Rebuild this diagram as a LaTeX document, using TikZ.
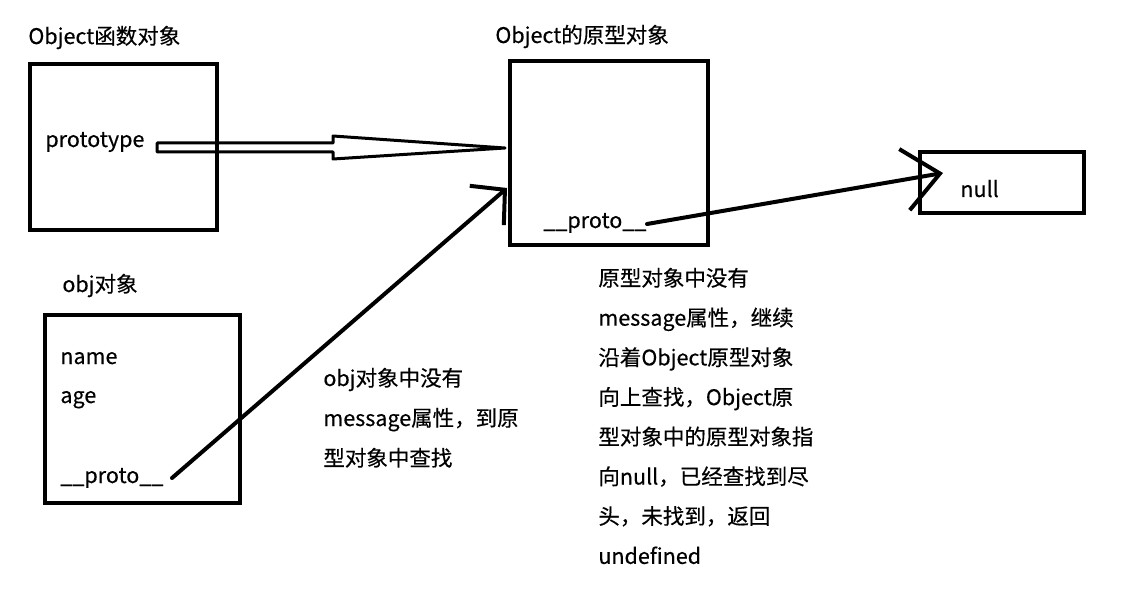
\documentclass[tikz,border=0pt]{standalone}
\usepackage{fontspec}
\setmainfont{Noto Sans CJK SC}[FakeBold=0.4]
\usetikzlibrary{arrows.meta,calc}

\begin{document}
\begin{tikzpicture}
  [x=0.5pt,y=-0.5pt,
   every node/.style={font=\fontsize{10.75}{12}\selectfont},
   box/.style={draw,line width=2pt,outer sep=0pt,inner sep=0pt},
   lbl/.style={anchor=base west,inner sep=0pt},
   barb/.style={line width=2pt,line cap=round,-{Straight Barb[length=12pt,width=26pt]}}]
  \useasboundingbox (0,0) rectangle (1139,593);

  % boxes
  \node[box,minimum width=93.25pt,minimum height=83pt] (fn) at (123.25,147) {};
  \node[box,minimum width=99pt,minimum height=92pt] (op) at (609,153) {};
  \node[box,minimum width=82pt,minimum height=30.5pt] (nb) at (1002,182.5) {};
  \node[box,minimum width=97.5pt,minimum height=94pt] (ob) at (142.5,409) {};

  % titles and fields
  \node[lbl] (fnt) at (28,44) {Object函数对象};
  \node[lbl] (ptype) at (45,147) {prototype};
  \node[lbl] (opt) at (495,43) {Object的原型对象};
  \node[lbl] (opp) at (543,228) {\_\_proto\_\_};
  \node[lbl] (nul) at (960,197) {null};
  \node[lbl] (obt) at (62,292) {obj对象};
  \node[lbl] (nm) at (60,364) {name};
  \node[lbl] (ag) at (60,403) {age};
  \node[lbl] (obp) at (60,483) {\_\_proto\_\_};

  % notes
  \foreach \t [count=\i from 0] in {obj对象中没有,message属性，到原,型对象中查找}
    \node[lbl] (mid\i) at (323,386+40*\i) {\t};
  \foreach \t [count=\i from 0] in {原型对象中没有,message属性，继续,沿着Object原型对象,
      向上查找，Object原,型对象中的原型对象指,向null，已经查找到尽,头，未找到，返回,undefined}
    \node[lbl] (rt\i) at (598,286+39.7*\i) {\t};

  % hollow arrow prototype -> prototype object
  \coordinate (tipA) at ($(op.west)+(-5,-5)$);
  \draw[line width=1.5pt,line join=round] (tipA) -- ++(-172,-12) -- ++(0,7)
    -- ++(-176,0) -- ++(0,9) -- ++(176,0) -- ++(0,7) -- cycle;

  % __proto__ links
  \coordinate (s1) at ($(ob.south east)+(-68,-25)$);
  \coordinate (e1) at ($(op.west)+(-3,35)$);
  \coordinate (s2) at ($(op.south east)+(-61,-21)$);
  \coordinate (e2) at ($(nb.west)+(23,-9.5)$);
  \draw[barb] (s1) -- (e1);
  \draw[barb,-{Straight Barb[length=18pt,width=31pt]}] (s2) -- (e2);
\end{tikzpicture}
\end{document}
